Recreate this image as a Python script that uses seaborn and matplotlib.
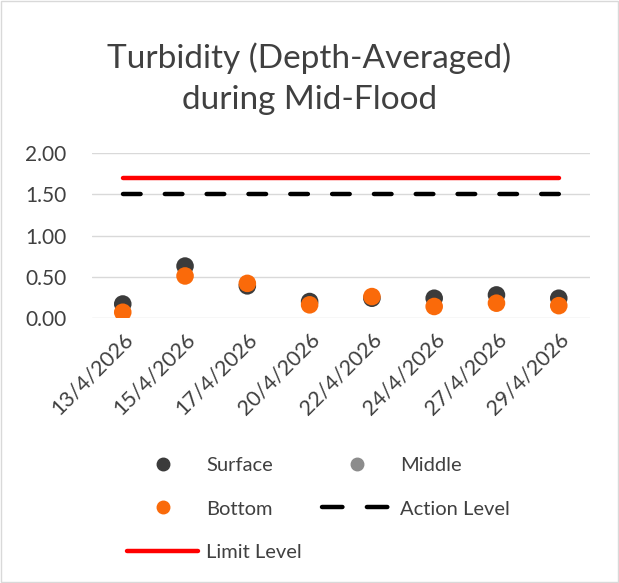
import numpy as np
import pandas as pd
import seaborn as sns
import matplotlib.pyplot as plt
from matplotlib.lines import Line2D
from matplotlib.patches import Rectangle

# Dados
datas = ["13/4/2026", "15/4/2026", "17/4/2026", "20/4/2026",
         "22/4/2026", "24/4/2026", "27/4/2026", "29/4/2026"]
surface = [0.17, 0.63, 0.39, 0.20, 0.24, 0.24, 0.28, 0.24]
middle = [np.nan] * 8
bottom = [0.07, 0.51, 0.42, 0.16, 0.26, 0.14, 0.18, 0.15]
action_level = [1.50] * 8
limit_level = [1.70] * 8

cores = {"Surface": "#3b3b3b", "Middle": "#8c8c8c", "Bottom": "#fa6a0a"}
cor_texto = "#404040"
tracejado = (3.96, 5.45)

sns.set_style("white")
plt.rcParams["font.family"] = ["Lato", "DejaVu Sans"]

df = pd.DataFrame({"Data": datas, "Surface": surface, "Middle": middle, "Bottom": bottom})
df_long = df.melt(id_vars="Data", var_name="Posição", value_name="Turbidez").dropna()

fig = plt.figure(figsize=(6.19, 5.83), dpi=100)
ax = fig.add_axes([0.148, 0.4545, 0.805, 0.283])

# Linhas de nível
sns.lineplot(x=datas, y=limit_level, ax=ax, color="#ff0000", linewidth=3.2,
             solid_capstyle="round", zorder=2)
linha_acao = sns.lineplot(x=datas, y=action_level, ax=ax, color="black", linewidth=3.2, zorder=2)
linha_acao.lines[-1].set_dashes(tracejado)
linha_acao.lines[-1].set_dash_capstyle("round")

# Pontos
sns.scatterplot(data=df_long, x="Data", y="Turbidez", hue="Posição", palette=cores,
                s=160, edgecolor="none", legend=False, ax=ax, zorder=3)

ax.set_xlim(-0.5, 7.5)
ax.set_ylim(0, 2.0)
ax.set_yticks([0, 0.5, 1.0, 1.5, 2.0])
ax.set_yticklabels([f"{v:.2f}" for v in [0, 0.5, 1.0, 1.5, 2.0]])
ax.yaxis.grid(True, color="#d9d9d9", linewidth=1)
ax.set_axisbelow(True)
for lado in ["top", "right", "left", "bottom"]:
    ax.spines[lado].set_visible(False)
ax.tick_params(axis="both", length=0, labelsize=15, colors=cor_texto)
ax.tick_params(axis="y", pad=18)
ax.tick_params(axis="x", pad=8, labelsize=15.5)
plt.setp(ax.get_xticklabels(), rotation=45, ha="right", rotation_mode="anchor")
ax.set_xlabel("")
ax.set_ylabel("")

fig.text(0.5, 0.865, "Turbidity (Depth-Averaged)\nduring Mid-Flood", ha="center", va="center",
         fontsize=24, color=cor_texto, linespacing=1.45)

# Legenda
handles = [
    Line2D([], [], linestyle="none", marker="o", markersize=9, color=cores["Surface"]),
    Line2D([], [], linestyle="none", marker="o", markersize=9, color=cores["Bottom"]),
    Line2D([], [], color="#ff0000", linewidth=3.2, solid_capstyle="round"),
    Line2D([], [], linestyle="none", marker="o", markersize=9, color=cores["Middle"]),
    Line2D([], [], color="black", linewidth=3.2, dashes=(4.6, 5.5), dash_capstyle="round"),
]
labels = ["Surface", "Bottom", "Limit Level", "Middle", "Action Level"]
fig.legend(handles, labels, ncol=2, loc="center", bbox_to_anchor=(0.515, 0.127), frameon=False,
           fontsize=14.5, labelcolor=cor_texto, handlelength=3.5, handletextpad=0.4,
           columnspacing=1.0, labelspacing=1.3)

fig.patches.append(Rectangle((0.002, 0.002), 0.996, 0.996, transform=fig.transFigure,
                             fill=False, edgecolor="#d9d9d9", linewidth=1))

plt.savefig("out.png", dpi=100)
